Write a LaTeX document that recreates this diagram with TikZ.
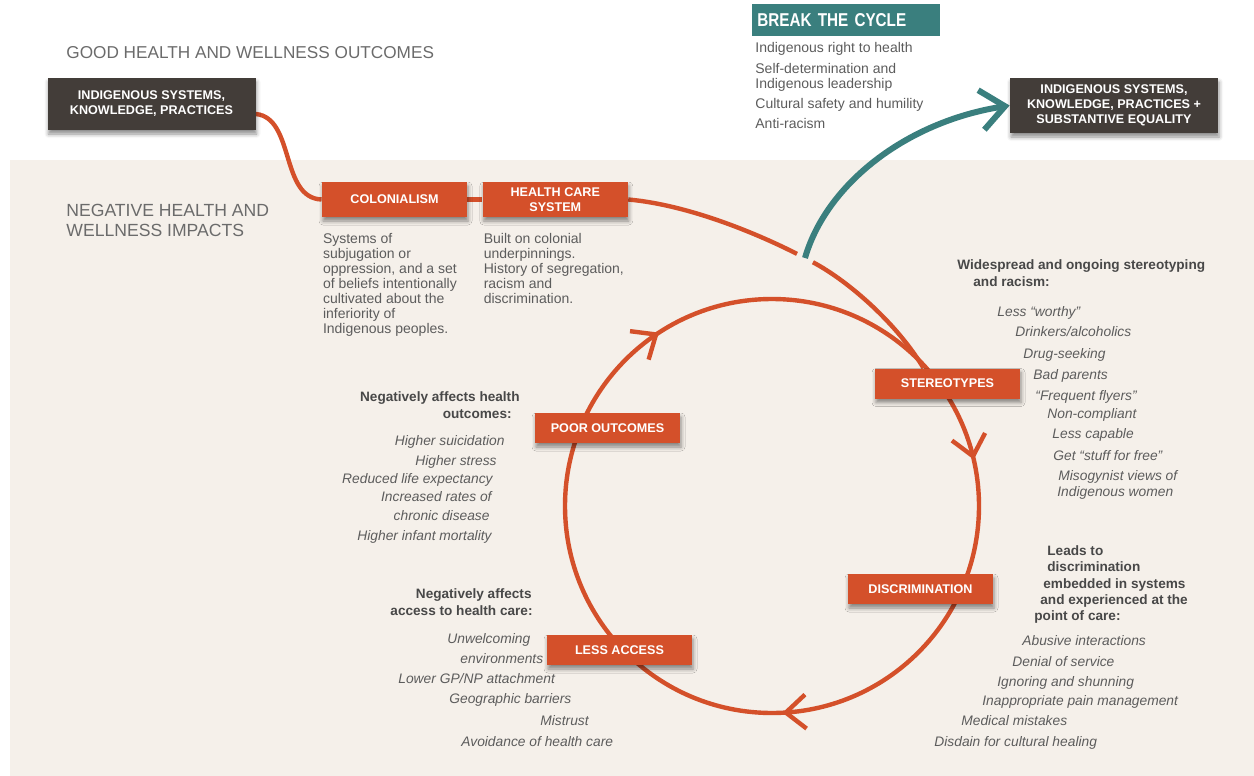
\documentclass[tikz,border=0pt]{standalone}
\usepackage{fontspec}
\setmainfont{Liberation Sans}
\newfontfamily\narrowsans[FakeStretch=0.82]{Liberation Sans}
\usetikzlibrary{arrows.meta, positioning, shadows.blur, backgrounds, decorations.markings}

\definecolor{rust}{HTML}{D4502A}
\definecolor{bark}{HTML}{433D39}
\definecolor{sea}{HTML}{3A7F7E}
\definecolor{sand}{HTML}{F5F0EA}
\definecolor{ink}{HTML}{5C5C5C}
\definecolor{headink}{HTML}{484848}
\definecolor{titleink}{HTML}{6B6B6B}

\tikzset{barb/.tip={Straight Barb[length=10pt, width=17pt]}}

\begin{document}
\begin{tikzpicture}[
  x=0.5pt, y=-0.5pt,
  box/.style={fill=rust, text=white, align=center, inner sep=1pt,
              minimum width=72.5pt, minimum height=15pt,
              font=\fontsize{6.3}{7.5}\selectfont\bfseries,
              blur shadow={shadow xshift=0.5pt, shadow yshift=-2pt,
                           shadow blur radius=2pt, shadow opacity=45}},
  dark/.style={box, fill=bark, minimum width=104pt, minimum height=26pt},
  tag/.style={fill=sea, text=white, anchor=west, align=left, inner xsep=2.5pt,
              text width=89pt, minimum height=16pt,
              font=\narrowsans\fontsize{9.3}{10}\selectfont\bfseries},
  title/.style={text=titleink, inner sep=0, align=left,
                font=\fontsize{8.6}{10}\selectfont},
  desc/.style={text=ink, inner sep=0, align=left,
               font=\fontsize{7}{7.5}\selectfont},
  hd/.style={text=headink, inner sep=0, font=\fontsize{6.8}{8}\selectfont\bfseries},
  item/.style={text=ink, inner sep=0, font=\fontsize{6.9}{8}\selectfont\itshape},
  wire/.style={draw=rust, line width=2.2pt}
]
\useasboundingbox (0,0) rectangle (1254,776);

% headings
\node[title, anchor=base west] (good) at (66,58) {GOOD HEALTH AND WELLNESS OUTCOMES};
\node[title, anchor=north west, font=\fontsize{8.8}{10}\selectfont] (bad) at (66,204)
  {NEGATIVE HEALTH AND\\WELLNESS IMPACTS};

% dark end boxes
\node[dark] (ind1) at (151.5,104) {INDIGENOUS SYSTEMS,\\KNOWLEDGE, PRACTICES};
\node[dark, minimum height=27.5pt] (ind2) at (1114,105.5)
  {INDIGENOUS SYSTEMS,\\KNOWLEDGE, PRACTICES +\\SUBSTANTIVE EQUALITY};

% break the cycle
\node[tag] (brk) at (752,20) {BREAK THE CYCLE};
\foreach \y/\t [count=\i] in {53/Indigenous right to health, 73/Self-determination and,
    88/Indigenous leadership, 108/Cultural safety and humility, 128/Anti-racism}
  \node[desc, anchor=base west] (rt\i) at (755,\y) {\t};

% the cycle boxes
\node[box, minimum height=17.5pt] (col) at (394.5,199.5) {COLONIALISM};
\node[box, minimum height=17.5pt, right=7.5pt of col] (hcs) {HEALTH CARE\\SYSTEM};
\node[box] (st) at (947.5,383.5) {STEREOTYPES};
\node[box] (dis) at (920.5,589) {DISCRIMINATION};
\node[box] (less) at (619.5,650) {LESS ACCESS};
\node[box] (poor) at (607.5,428) {POOR OUTCOMES};

\node[desc, below right=8pt and 0.5pt of col.south west] (coldesc)
  {Systems of\\subjugation or\\oppression, and a set\\of beliefs intentionally\\cultivated about the\\inferiority of\\Indigenous peoples.};
\node[desc, below right=8pt and 0.5pt of hcs.south west] (hcsdesc)
  {Built on colonial\\underpinnings.\\History of segregation,\\racism and\\discrimination.};

% stereotypes
\node[hd, anchor=base west] (sth1) at (957,269) {Widespread and ongoing stereotyping};
\node[hd, anchor=base west] (sth2) at (973,286) {and racism:};
\foreach \x/\y/\t [count=\i] in {997/316/Less “worthy”, 1015/336/{Drinkers/alcoholics},
    1023/358/Drug-seeking, 1033/379/Bad parents, 1035/400/“Frequent flyers”,
    1047/418/Non-compliant, 1052/438/Less capable, 1053/460/Get “stuff for free”,
    1058/480/Misogynist views of, 1057/496/Indigenous women}
  \node[item, anchor=base west] (sti\i) at (\x,\y) {\t};

% discrimination
\foreach \x/\y/\t [count=\i] in {1047/555/Leads to, 1047/571/discrimination,
    1043/588/embedded in systems, 1040/604/and experienced at the, 1034/620/point of care:}
  \node[hd, anchor=base west] (dih\i) at (\x,\y) {\t};
\foreach \x/\y/\t [count=\i] in {1022/645/Abusive interactions, 1012/666/Denial of service,
    997/686/Ignoring and shunning, 982/705/Inappropriate pain management,
    961/725/Medical mistakes, 934/746/Disdain for cultural healing}
  \node[item, anchor=base west] (dii\i) at (\x,\y) {\t};

% less access
\node[hd, anchor=base east] (lah1) at (532,598) {Negatively affects};
\node[hd, anchor=base east] (lah2) at (533,615) {access to health care:};
\foreach \x/\y/\t [count=\i] in {447/643/Unwelcoming, 460/663/environments,
    398/683/{Lower GP/NP attachment}, 449/703/Geographic barriers, 540/725/Mistrust,
    461/746/Avoidance of health care}
  \node[item, anchor=base west] (lai\i) at (\x,\y) {\t};

% poor outcomes
\node[hd, anchor=base east] (poh1) at (520,401) {Negatively affects health};
\node[hd, anchor=base east] (poh2) at (512,418) {outcomes:};
\foreach \x/\y/\t [count=\i] in {505/445/Higher suicidation, 497/465/Higher stress,
    493/483/Reduced life expectancy, 492/501/Increased rates of,
    490/520/chronic disease, 492/540/Higher infant mortality}
  \node[item, anchor=base east] (poi\i) at (\x,\y) {\t};

\coordinate (split) at (805,258);
\coordinate (hub) at (772,506);

\begin{pgfonlayer}{background}
  \fill[sand] (10,160) rectangle (1254,776);
  \draw[wire] ([yshift=-5pt]ind1.east) .. controls (295,118) and (280,198) .. (col.west);
  \draw[wire] (col) -- (hcs);
  \draw[wire, shorten >=4.5pt] (hcs.east) .. controls (690,205) and (760,235) .. (split);
  \draw[wire, shorten <=4.5pt] (split) .. controls (850,282) and (898,325) .. ([xshift=-12pt]st.north);
  % the loop, clockwise, three heads on it
  \draw[wire, postaction={decorate}, decoration={markings,
      mark=at position 0.242 with {\arrow{barb}},
      mark=at position 0.658 with {\arrow{barb}},
      mark=at position 0.964 with {\arrow{barb}}}]
    (hub) circle[radius=207];
  \draw[sea, line width=3pt, -{Straight Barb[length=12pt, width=20pt]}]
    (split) .. controls (826,185) and (905,122) .. (ind2.west);
\end{pgfonlayer}
\end{tikzpicture}
\end{document}
